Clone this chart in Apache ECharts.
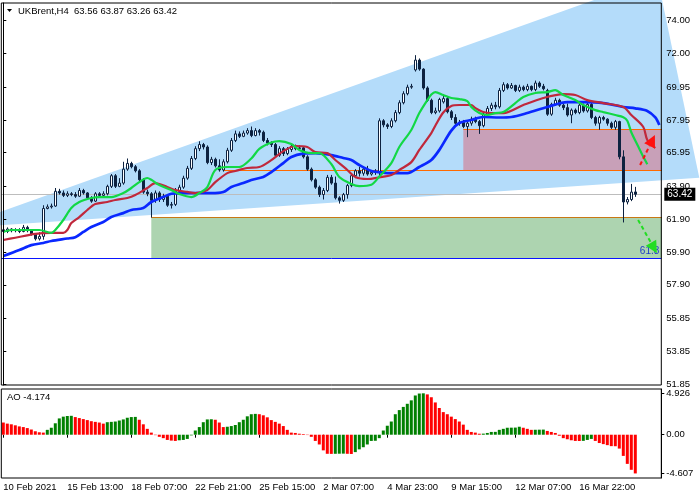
<!DOCTYPE html>
<html>
<head>
    <meta charset="utf-8"/>
    <title>UKBrent,H4</title>
    <script type="text/javascript" src="https://cdn.jsdelivr.net/npm/echarts@6/dist/echarts.min.js"></script>
    <style>
        html, body { margin: 0; padding: 0; background: #fff; }
        #main { width: 700px; height: 500px; }
    </style>
</head>
<body>
<div id="main"></div>
<script type="text/javascript">
    // H4 bars
    var opens = [
        61.25,61.15,61.30,61.20,61.25,61.15,61.40,61.20,61.00,60.70,
        60.85,62.55,62.65,62.70,63.60,63.50,63.35,63.45,63.40,63.30,
        63.65,63.50,63.20,63.00,63.45,63.35,63.45,63.90,64.55,63.90,
        64.10,64.95,65.30,65.10,64.85,64.30,63.55,63.45,63.05,63.50,
        63.10,63.30,62.75,62.80,63.60,63.85,64.40,65.00,65.60,66.20,
        66.45,66.30,65.35,65.55,65.15,64.90,65.40,66.10,66.70,67.10,
        66.95,67.15,67.30,67.00,67.30,67.20,66.70,66.55,66.45,65.80,
        66.20,65.90,66.15,66.35,66.20,66.25,65.70,64.95,64.30,63.85,
        63.40,63.65,64.45,64.10,63.20,63.05,63.40,63.95,64.55,64.85,
        64.70,64.95,64.65,64.75,64.75,67.90,67.65,67.55,67.90,68.40,
        69.00,69.55,69.95,71.00,71.60,71.05,69.90,69.15,68.40,68.50,
        69.05,69.25,68.45,68.10,67.75,67.80,67.55,67.75,68.00,67.85,
        67.60,68.30,68.65,68.85,68.75,69.75,70.10,69.90,70.05,69.75,
        69.95,69.80,70.00,69.80,70.20,70.00,69.75,68.30,68.90,69.15,
        68.85,68.70,68.25,68.55,68.40,68.85,68.50,68.90,68.10,67.75,
        68.10,68.00,67.75,67.50,67.85,65.70,62.95,63.10,63.56
    ];
    var closes = [
        61.15,61.30,61.20,61.25,61.15,61.40,61.20,61.00,60.70,60.85,
        62.55,62.65,62.70,63.60,63.50,63.35,63.45,63.40,63.30,63.65,
        63.50,63.20,63.00,63.45,63.35,63.45,63.90,64.55,63.90,64.10,
        64.95,65.30,65.10,64.85,64.30,63.55,63.45,63.05,63.50,63.10,
        63.30,62.75,62.80,63.60,63.85,64.40,65.00,65.60,66.20,66.45,
        66.30,65.35,65.55,65.15,64.90,65.40,66.10,66.70,67.10,66.95,
        67.15,67.30,67.00,67.30,67.20,66.70,66.55,66.45,65.80,66.20,
        65.90,66.15,66.35,66.20,66.25,65.70,64.95,64.30,63.85,63.40,
        63.65,64.45,64.10,63.20,63.05,63.40,63.95,64.55,64.85,64.70,
        64.95,64.65,64.75,64.80,67.90,67.65,67.55,67.90,68.40,69.00,
        69.55,69.95,70.00,71.60,71.05,69.90,69.15,68.40,68.50,69.20,
        69.25,68.45,68.10,67.75,67.80,67.55,67.75,68.00,67.85,67.60,
        68.30,68.65,68.85,68.75,69.75,70.10,69.90,70.05,69.75,69.95,
        69.80,70.00,69.80,70.20,70.00,69.85,68.30,68.90,69.15,68.85,
        68.70,68.25,68.55,68.40,68.85,68.50,68.90,68.10,67.75,68.10,
        68.00,67.75,67.50,67.85,65.70,62.95,63.10,63.55,63.42
    ];
    var lows = [
        61.05,61.05,61.10,61.10,61.05,61.10,61.10,60.90,60.60,60.60,
        60.65,62.50,62.55,62.65,63.40,63.25,63.25,63.30,63.20,63.25,
        63.40,63.10,62.90,62.95,63.25,63.20,63.35,63.80,63.80,63.85,
        64.00,64.85,65.00,64.75,64.20,63.45,63.30,62.00,62.90,62.95,
        62.95,62.65,62.55,62.70,63.45,63.75,64.30,64.90,65.50,66.05,
        66.15,65.25,65.20,65.05,64.80,64.80,65.30,66.00,66.60,66.85,
        66.90,67.05,66.90,66.95,67.00,66.60,66.40,66.30,65.70,65.70,
        65.75,65.80,66.00,66.10,66.10,65.60,64.85,64.20,63.75,63.25,
        63.10,63.55,64.00,63.10,62.85,62.95,63.15,63.85,64.40,64.50,
        64.55,64.55,64.55,64.60,64.50,67.50,67.40,67.45,67.80,68.30,
        68.90,69.45,69.85,70.90,70.95,69.80,69.05,68.30,68.30,68.40,
        68.95,68.35,67.95,67.65,67.60,67.45,66.90,67.60,67.75,67.10,
        67.50,68.20,68.50,68.60,68.65,69.65,69.80,69.85,69.65,69.65,
        69.70,69.70,69.70,69.70,69.90,69.75,68.20,68.20,68.80,68.75,
        68.55,68.15,67.75,68.30,68.30,68.40,68.40,68.00,67.60,67.35,
        67.90,67.60,67.40,67.35,65.55,61.70,62.80,63.00,63.26
    ];
    var highs = [
        61.35,61.40,61.35,61.35,61.35,61.55,61.50,61.30,61.05,61.10,
        62.75,62.80,62.85,63.80,63.75,63.65,63.60,63.55,63.55,63.80,
        63.75,63.55,63.30,63.55,63.55,63.60,64.00,64.65,64.65,64.40,
        65.40,65.60,65.40,65.20,64.95,64.40,63.70,63.55,63.65,63.60,
        63.45,63.40,62.95,63.80,64.00,64.55,65.15,65.75,66.35,66.65,
        66.55,66.40,65.70,65.65,65.55,65.55,66.25,66.85,67.30,67.25,
        67.30,67.45,67.55,67.45,67.40,67.30,66.85,66.65,66.55,66.35,
        66.30,66.30,66.50,66.45,66.40,66.35,65.80,65.05,64.40,63.95,
        63.80,64.60,64.60,64.50,63.30,63.50,64.05,64.70,64.95,65.10,
        65.05,65.15,64.90,64.95,68.05,68.00,67.75,68.05,68.55,69.15,
        69.70,70.10,70.15,71.90,71.70,71.10,70.00,69.25,68.70,69.30,
        69.45,69.35,68.55,68.30,67.95,67.95,67.90,68.15,68.15,67.95,
        68.45,68.80,69.00,69.05,69.90,70.25,70.20,70.20,70.10,70.10,
        70.05,70.15,70.05,70.35,70.30,70.15,69.85,69.00,69.30,69.25,
        68.95,68.95,68.65,68.65,68.95,68.95,69.00,69.00,68.20,68.20,
        68.20,68.05,67.85,67.95,67.90,66.10,63.25,64.05,63.87
    ];

    // Awesome Oscillator, one value per bar
    var aoValues = [
        1.45,1.32,1.24,1.12,0.99,0.91,0.79,0.62,0.41,0.29,
        0.25,0.58,0.83,1.36,1.94,2.15,2.23,2.25,2.10,1.98,
        1.86,1.74,1.61,1.53,1.45,1.32,1.49,1.53,1.57,1.69,
        1.82,2.02,2.10,2.12,1.78,1.24,0.70,0.25,-0.05,-0.25,
        -0.41,-0.62,-0.70,-0.74,-0.66,-0.62,-0.50,-0.08,0.50,0.91,
        1.49,1.82,1.84,1.78,1.45,0.91,0.95,1.03,1.16,1.49,
        1.78,2.19,2.44,2.48,2.44,2.31,2.07,1.74,1.53,1.32,
        1.03,0.58,0.25,0.21,0.12,0.08,-0.04,-0.25,-0.74,-1.16,
        -1.86,-2.27,-2.28,-2.27,-2.26,-2.25,-2.27,-2.29,-2.07,-1.74,
        -1.49,-1.16,-0.74,-0.72,-0.41,0.50,1.07,1.57,2.44,2.93,
        3.31,3.68,4.09,4.67,4.90,4.926,4.80,4.46,3.84,3.18,
        2.69,2.44,2.15,1.86,1.57,1.20,0.58,0.33,0.25,0.12,
        0.13,0.21,0.33,0.34,0.58,0.70,0.83,0.84,0.85,0.95,
        0.83,0.70,0.58,0.59,0.60,0.61,0.45,0.33,0.21,-0.12,
        -0.41,-0.54,-0.66,-0.74,-0.75,-0.73,-0.62,-0.50,-0.74,-0.99,
        -1.12,-1.24,-1.36,-1.37,-1.65,-2.52,-3.47,-4.174,-4.607
    ];

    // Alligator lines: [bar, price]
    var jawPts = [
        [0,59.65],[4,60.02],[7,60.32],[10,60.45],[12,60.57],[16,60.72],[18,60.80],[20,61.12],
        [22,61.42],[25,61.73],[27,62.03],[30,62.27],[32,62.46],[35,62.58],[37,62.95],[40,63.25],
        [42,63.45],[45,63.49],[48,63.49],[52,63.49],[55,63.56],[57,63.86],[60,64.10],[62,64.29],
        [65,64.47],[67,64.77],[70,65.32],[72,65.69],[75,65.90],[78,65.93],[82,65.81],[85,65.63],
        [87,65.51],[89,65.20],[92,64.84],[94,64.77],[96,64.71],[101,64.71],[104,65.08],[107,65.51],
        [109,66.12],[112,67.30],[114,67.76],[117,67.95],[120,68.13],[124,68.10],[127,68.13],[131,68.37],
        [136,68.74],[141,69.04],[145,69.04],[150,68.98],[155,68.74],[158,68.66],[161,68.50],[163,68.10],
        [164,67.64]
    ];
    var teethPts = [
        [0,60.63],[3,60.77],[8,61.00],[12,61.06],[15,61.06],[16,61.24],[17,61.66],[19,62.03],
        [21,62.46],[23,62.82],[26,62.95],[28,63.07],[31,63.19],[33,63.37],[36,63.80],[38,64.10],
        [41,63.86],[43,63.68],[46,63.56],[48,63.49],[51,63.68],[53,64.16],[56,64.71],[58,64.84],
        [61,65.02],[64,65.08],[67,65.50],[70,66.05],[73,66.36],[76,66.30],[78,65.99],[81,65.93],
        [83,65.51],[86,64.90],[88,64.47],[91,64.35],[94,64.45],[97,64.59],[99,64.90],[102,65.38],
        [104,66.12],[107,67.15],[108,67.60],[110,68.40],[112,68.80],[114,68.86],[117,68.86],[118,68.68],
        [120,68.43],[122,68.37],[125,68.37],[130,68.86],[135,69.29],[140,69.53],[143,69.47],[146,69.16],
        [150,68.98],[155,68.74],[157,68.25],[160,67.52],[161,66.73],[163,66.24]
    ];
    var lipsPts = [
        [0,61.12],[2,61.24],[9,61.24],[12,61.06],[13,61.24],[15,61.85],[17,62.58],[19,62.95],
        [22,63.19],[24,63.25],[27,63.25],[30,63.49],[32,63.80],[34,64.16],[36,64.41],[37,64.30],
        [39,63.98],[42,63.68],[44,63.43],[47,63.25],[49,63.49],[51,63.86],[53,64.90],[56,65.08],
        [59,65.08],[62,65.60],[64,66.18],[67,66.57],[69,66.66],[72,66.48],[74,66.12],[77,65.93],
        [79,65.93],[82,65.26],[84,64.47],[87,64.05],[89,63.92],[92,64.00],[94,64.50],[97,65.32],
        [99,66.30],[102,67.34],[104,68.37],[106,69.16],[107,69.50],[108,69.65],[110,69.47],[112,69.29],
        [114,69.22],[116,69.10],[117,68.74],[119,68.37],[121,68.25],[123,68.37],[125,68.43],[128,68.98],
        [130,69.35],[133,69.59],[136,69.65],[138,69.77],[140,69.47],[143,69.16],[145,68.86],[148,68.55],
        [150,68.43],[153,68.25],[155,68.12],[156,67.90],[157,67.20],[159,66.20],[160,65.70],[161,65.25]
    ];

    var timeLabels = ['10 Feb 2021', '15 Feb 13:00', '18 Feb 07:00', '22 Feb 21:00', '25 Feb 15:00',
        '2 Mar 07:00', '4 Mar 23:00', '9 Mar 15:00', '12 Mar 07:00', '16 Mar 22:00'];
    var labelBars = [0, 16, 32, 48, 64, 80, 96, 112, 128, 144];
    var priceTicks = ['74.00', '72.00', '69.95', '67.95', '65.95', '63.90', '61.90', '59.90', '57.90', '55.85', '53.85', '51.85'];
    var aoTicks = ['4.926', '0.00', '-4.607'];

    var barSlots = 165;          // bars + chart shift on the right
    var lastPrice = 63.42;
    var fiboPrice = 59.52;
    var fiboText = '61.8';

    // chart objects: [bar, price] anchors
    var triangle = [[-12.2, 61.34], [163.5, 76.64], [174, 64.43]];
    var boxes = [[115, 67.40, 170, 64.90], [37, 62.03, 170, 59.52]];
    var levels = [[55, 64.90, 170], [115, 67.40, 170], [37, 62.03, 170]];
    var arrows = [[159.2, 65.20, 162.9, 67.03], [158.7, 61.85, 163.4, 59.83]];

    var boxColors = ['#c8a0b8', '#add4b0'];
    var levelColors = ['#ff6a00', '#ff6a00', '#c87814'];
    var arrowColors = ['#ff1010', '#22dd22'];
    var font = "'Liberation Sans', Arial, sans-serif";

    var cats = [];
    for (var i = 0; i < barSlots; i++) cats.push(i);
    var candles = opens.map(function (o, k) { return [o, closes[k], lows[k], highs[k]]; });
    var priceVals = priceTicks.map(parseFloat);
    var aoVals = aoTicks.map(parseFloat);

    var myChart = echarts.init(document.getElementById('main'));

    var option = {
        animation: false,
        backgroundColor: '#fff',
        textStyle: { fontFamily: font },
        grid: [
            { left: 1.3, top: 3, width: 660, height: 382, show: true, borderColor: '#000', borderWidth: 1, z: 10 },
            { left: 1.3, top: 389, width: 660, height: 89, show: true, borderColor: '#000', borderWidth: 1, z: 10 }
        ],
        xAxis: [
            { type: 'category', gridIndex: 0, data: cats, show: false },
            {
                type: 'category', gridIndex: 1, data: cats,
                axisLine: { show: false },
                axisTick: {
                    show: true, alignWithLabel: true, length: 3, lineStyle: { color: '#000' },
                    interval: function (idx) { return labelBars.indexOf(idx) >= 0; }
                },
                axisLabel: {
                    interval: function (idx) { return labelBars.indexOf(idx) >= 0; },
                    formatter: function (v, idx) {
                        var k = labelBars.indexOf(Number(v));
                        return k >= 0 ? timeLabels[k] : '';
                    },
                    align: 'left', margin: 4, color: '#000', fontSize: 9.5, fontFamily: font
                },
                splitLine: { show: false }
            },
            { type: 'value', gridIndex: 0, min: -0.5, max: barSlots - 0.5, show: false }
        ],
        yAxis: [
            {
                type: 'value', gridIndex: 0, position: 'right', min: 51.79, max: 75.08, z: 10,
                axisLine: { show: true, lineStyle: { color: '#000' } },
                axisTick: { show: true, length: 3, customValues: priceVals, lineStyle: { color: '#000' } },
                axisLabel: {
                    customValues: priceVals, margin: 5, color: '#000', fontSize: 9.5, fontFamily: font,
                    formatter: function (v) { return v.toFixed(2); }
                },
                splitLine: { show: false }
            },
            {
                type: 'value', gridIndex: 1, position: 'right', min: -5.15, max: 5.44, z: 10,
                axisLine: { show: true, lineStyle: { color: '#000' } },
                axisTick: { show: true, length: 3, customValues: aoVals, lineStyle: { color: '#000' } },
                axisLabel: {
                    customValues: aoVals, margin: 5, color: '#000', fontSize: 9.5, fontFamily: font,
                    formatter: function (v) {
                        var k = aoVals.indexOf(v);
                        return k >= 0 ? aoTicks[k] : '';
                    }
                },
                splitLine: { show: false }
            }
        ],
        graphic: [
            { type: 'polygon', shape: { points: [[7, 9], [12, 9], [9.5, 12]] }, style: { fill: '#000' } },
            { type: 'text', left: 18, top: 6, style: { text: 'UKBrent,H4  63.56 63.87 63.26 63.42', fill: '#000', font: '9.5px ' + font } },
            { type: 'text', left: 7, top: 392, style: { text: 'AO -4.174', fill: '#000', font: '9.5px ' + font } }
        ],
        series: [
            {
                // triangle object
                type: 'custom', xAxisIndex: 2, yAxisIndex: 0, z: 1, clip: false, silent: true,
                data: [[80, 63]],
                renderItem: function (params, api) {
                    var pts = triangle.map(function (p) { return api.coord(p); });
                    return { type: 'polygon', shape: { points: pts }, style: { fill: '#b4dcfa' } };
                }
            },
            {
                type: 'custom', xAxisIndex: 2, yAxisIndex: 0, z: 2, clip: true, silent: true,
                data: boxes, encode: { x: 0, y: 1 },
                renderItem: function (params, api) {
                    var a = api.coord([api.value(0), api.value(1)]);
                    var b = api.coord([api.value(2), api.value(3)]);
                    return {
                        type: 'rect',
                        shape: { x: a[0], y: a[1], width: b[0] - a[0], height: b[1] - a[1] },
                        style: { fill: boxColors[params.dataIndex] }
                    };
                }
            },
            {
                type: 'custom', xAxisIndex: 2, yAxisIndex: 0, z: 3, clip: true, silent: true,
                data: levels, encode: { x: 0, y: 1 },
                renderItem: function (params, api) {
                    var a = api.coord([api.value(0), api.value(1)]);
                    var b = api.coord([api.value(2), api.value(1)]);
                    return {
                        type: 'line',
                        shape: { x1: a[0], y1: Math.round(a[1]) + 0.5, x2: b[0], y2: Math.round(a[1]) + 0.5 },
                        style: { stroke: levelColors[params.dataIndex], lineWidth: 1.2 }
                    };
                }
            },
            {
                type: 'candlestick', xAxisIndex: 0, yAxisIndex: 0, z: 5,
                data: candles, barWidth: 3,
                itemStyle: { color: '#ffffff', color0: '#0d2240', borderColor: '#0d2240', borderColor0: '#0d2240', borderWidth: 1 },
                markLine: {
                    silent: true, symbol: ['none', 'none'], animation: false,
                    data: [
                        {
                            yAxis: lastPrice,
                            lineStyle: { color: '#bdbdbd', type: 'solid', width: 1 },
                            label: {
                                show: true, position: 'end', distance: 3,
                                formatter: lastPrice.toFixed(2),
                                backgroundColor: '#000', color: '#fff', padding: [2, 3, 1, 3],
                                fontSize: 10, fontFamily: font
                            }
                        },
                        {
                            yAxis: fiboPrice,
                            lineStyle: { color: '#0a14ff', type: 'solid', width: 1 },
                            label: {
                                show: true, position: 'insideEndTop', distance: 2,
                                formatter: fiboText, color: '#1e3cc8', fontSize: 10, fontFamily: font
                            }
                        }
                    ]
                }
            },
            {
                name: 'jaw', type: 'line', xAxisIndex: 2, yAxisIndex: 0, z: 6,
                data: jawPts, smooth: 0.3, showSymbol: false, silent: true,
                lineStyle: { color: '#0a28ff', width: 2.7 }
            },
            {
                name: 'teeth', type: 'line', xAxisIndex: 2, yAxisIndex: 0, z: 6,
                data: teethPts, smooth: 0.3, showSymbol: false, silent: true,
                lineStyle: { color: '#c0283c', width: 2.2 }
            },
            {
                name: 'lips', type: 'line', xAxisIndex: 2, yAxisIndex: 0, z: 6,
                data: lipsPts, smooth: 0.3, showSymbol: false, silent: true,
                lineStyle: { color: '#12d845', width: 2.2 }
            },
            {
                type: 'custom', xAxisIndex: 2, yAxisIndex: 0, z: 7, clip: false, silent: true,
                data: arrows, encode: { x: 0, y: 1 },
                renderItem: function (params, api) {
                    var a = api.coord([api.value(0), api.value(1)]);
                    var b = api.coord([api.value(2), api.value(3)]);
                    var dx = b[0] - a[0], dy = b[1] - a[1];
                    var len = Math.sqrt(dx * dx + dy * dy);
                    var ux = dx / len, uy = dy / len;
                    var bx = b[0] - ux * 12, by = b[1] - uy * 12;
                    var c = arrowColors[params.dataIndex];
                    return {
                        type: 'group',
                        children: [
                            {
                                type: 'line',
                                shape: { x1: a[0], y1: a[1], x2: bx, y2: by },
                                style: { stroke: c, lineWidth: 2, lineDash: [4, 3] }
                            },
                            {
                                type: 'polygon',
                                shape: { points: [[b[0], b[1]], [bx - uy * 6, by + ux * 6], [bx + uy * 6, by - ux * 6]] },
                                style: { fill: c }
                            }
                        ]
                    };
                }
            },
            {
                name: 'AO', type: 'bar', xAxisIndex: 1, yAxisIndex: 1,
                data: aoValues, barWidth: 3, silent: true,
                itemStyle: {
                    color: function (p) {
                        var k = p.dataIndex;
                        return (k === 0 || aoValues[k] < aoValues[k - 1]) ? '#ff0000' : '#008000';
                    }
                }
            }
        ]
    };

    myChart.setOption(option);
</script>
</body>
</html>
